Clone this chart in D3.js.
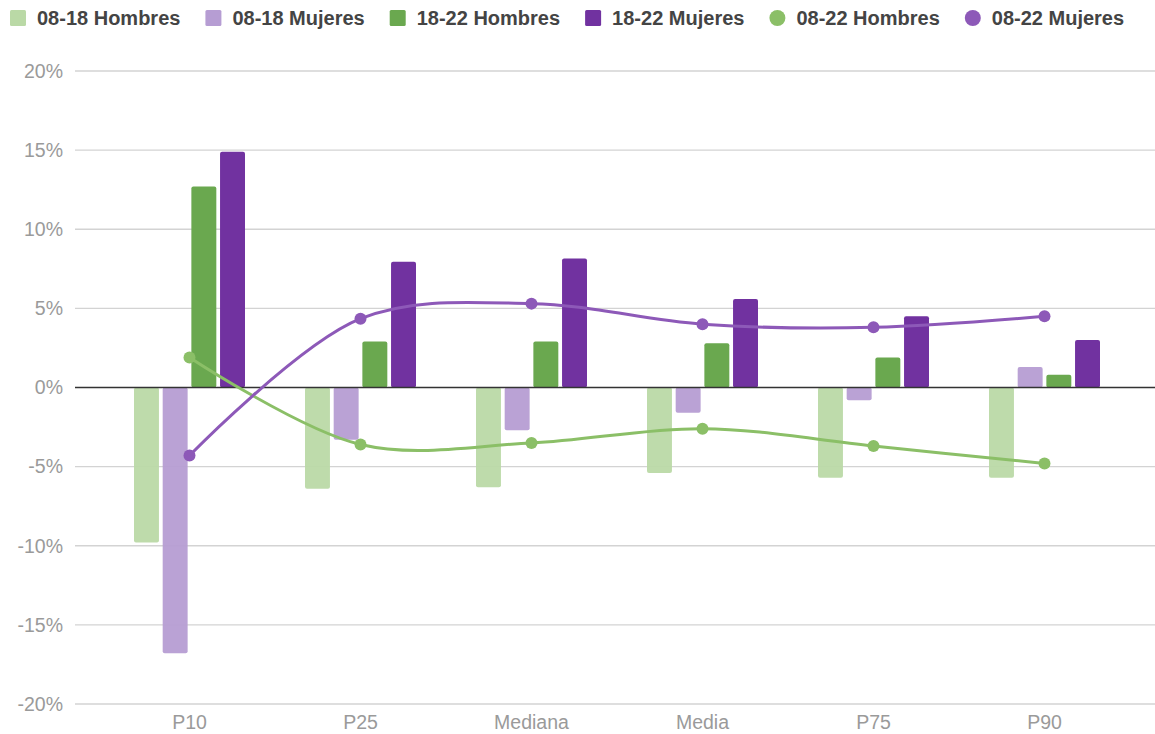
<!DOCTYPE html>
<html>
<head>
<meta charset="utf-8">
<script src="https://cdn.jsdelivr.net/npm/d3@7"></script>
<style>
  body { margin: 0; background: #fff; }
  svg { font-family: "Liberation Sans", Arial, sans-serif; }
</style>
</head>
<body>
<div id="chart"></div>
<script>
// datos (variacion en %)
var categorias = ["P10", "P25", "Mediana", "Media", "P75", "P90"];
var barSeries = ["08-18 Hombres", "08-18 Mujeres", "18-22 Hombres", "18-22 Mujeres"];
var h0818 = [-9.8, -6.4, -6.3, -5.4, -5.7, -5.7];
var m0818 = [-16.8, -3.3, -2.7, -1.6, -0.8, 1.3];
var h1822 = [12.7, 2.9, 2.9, 2.8, 1.9, 0.8];
var m1822 = [14.9, 7.95, 8.15, 5.6, 4.5, 3.0];
var lineSeries = ["08-22 Hombres", "08-22 Mujeres"];
var h0822 = [1.9, -3.6, -3.5, -2.6, -3.7, -4.8];
var m0822 = [-4.3, 4.35, 5.3, 4.0, 3.8, 4.5];
var yTicks = [-20, -15, -10, -5, 0, 5, 10, 15, 20];

var colores = {
  "08-18 Hombres": "#bad9a6",
  "08-18 Mujeres": "#b69dd3",
  "18-22 Hombres": "#6aa84f",
  "18-22 Mujeres": "#7132a0",
  "08-22 Hombres": "#8bbf67",
  "08-22 Mujeres": "#8d59b8"
};

var barData = [h0818, m0818, h1822, m1822];
var lineData = [h0822, m0822];

var W = 1155, H = 734;
var svg = d3.select("#chart").append("svg")
    .attr("width", W)
    .attr("height", H);

var y = d3.scaleLinear().domain([-20, 20]).range([704, 71]);
var x = d3.scaleBand().domain(categorias).range([104, 1130]);
var xInner = d3.scaleBand().domain(barSeries).range([-55.5, 55.5]).paddingInner(0.13);

// lineas de cuadricula
svg.append("g")
    .selectAll("line")
    .data(yTicks.filter(d => d != 0))
    .join("line")
    .attr("x1", 75).attr("x2", 1155)
    .attr("y1", d => y(d)).attr("y2", d => y(d))
    .attr("stroke", "#d3d3d3")
    .attr("stroke-width", 1.3);

// eje y
var yAxis = svg.append("g")
    .attr("transform", "translate(63,0)")
    .call(d3.axisLeft(y).tickValues(yTicks).tickSize(0).tickFormat(d => d + "%"));
yAxis.select(".domain").remove();
yAxis.selectAll("text")
    .attr("x", 0)
    .attr("font-size", 19.5)
    .attr("font-family", "Liberation Sans, Arial, sans-serif")
    .attr("fill", "#9a9a9a");

// eje x
var xAxis = svg.append("g")
    .attr("transform", "translate(0,704)")
    .call(d3.axisBottom(x).tickSize(0));
xAxis.select(".domain").remove();
xAxis.selectAll("text")
    .attr("y", 11)
    .attr("font-size", 19.5)
    .attr("font-family", "Liberation Sans, Arial, sans-serif")
    .attr("fill", "#9a9a9a");

// barras
barSeries.forEach(function(s, i) {
  svg.append("g")
    .selectAll("rect")
    .data(barData[i])
    .join("rect")
    .attr("x", (d, j) => x(categorias[j]) + x.bandwidth() / 2 + xInner(s))
    .attr("width", xInner.bandwidth())
    .attr("y", d => y(Math.max(0, d)))
    .attr("height", d => Math.abs(y(d) - y(0)))
    .attr("rx", 2)
    .attr("fill", colores[s])
    .attr("fill-opacity", i < 2 ? 0.95 : 1);
});

// linea del cero
svg.append("line")
    .attr("x1", 75).attr("x2", 1155)
    .attr("y1", y(0)).attr("y2", y(0))
    .attr("stroke", "#333")
    .attr("stroke-width", 1.3);

// lineas suavizadas
var linea = d3.line()
    .x((d, j) => x(categorias[j]) + x.bandwidth() / 2)
    .y(d => y(d))
    .curve(d3.curveCatmullRom.alpha(0.5));

lineSeries.forEach(function(s, i) {
  var g = svg.append("g");
  g.append("path")
    .datum(lineData[i])
    .attr("d", linea)
    .attr("fill", "none")
    .attr("stroke", colores[s])
    .attr("stroke-width", 3);
  g.selectAll("circle")
    .data(lineData[i])
    .join("circle")
    .attr("cx", (d, j) => x(categorias[j]) + x.bandwidth() / 2)
    .attr("cy", d => y(d))
    .attr("r", 6)
    .attr("fill", colores[s]);
});

// leyenda
var legend = svg.append("g").attr("transform", "translate(10,18)");
var lx = 0;
barSeries.concat(lineSeries).forEach(function(s, i) {
  var item = legend.append("g").attr("transform", "translate(" + lx + ",0)");
  if (i < 4) {
    item.append("rect")
      .attr("x", 0).attr("y", -8)
      .attr("width", 16).attr("height", 16)
      .attr("rx", 1.5)
      .attr("fill", colores[s]);
  } else {
    item.append("circle")
      .attr("cx", 8).attr("cy", 0).attr("r", 8)
      .attr("fill", colores[s]);
  }
  var t = item.append("text")
    .attr("x", 27).attr("y", 7)
    .attr("font-size", 20)
    .attr("font-weight", "bold")
    .attr("fill", "#444")
    .text(s);
  lx += 27 + t.node().getComputedTextLength() + 25;
});
</script>
</body>
</html>
